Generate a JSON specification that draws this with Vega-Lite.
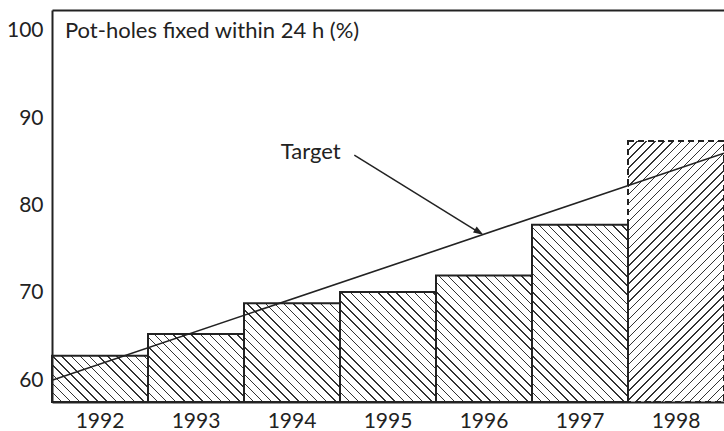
{
 "$schema": "https://vega.github.io/schema/vega-lite/v6.json",
 "width": 672, "height": 392,
 "autosize": {"type": "none"},
 "padding": {"left": 52, "top": 10, "right": 0, "bottom": 29},
 "background": "white",
 "config": {
  "view": {"stroke": null},
  "font": "Lato",
  "axis": {"domainColor": "#222", "domainWidth": 2, "ticks": false, "grid": false, "labelFont": "Lato", "labelFontSize": 21, "labelColor": "#222", "labelPadding": 8, "labelAngle": 0},
  "axisY": {"tickCount": 5, "labelPadding": 9}
 },
 "datasets": {
  "bars": [
   {"year": "1992", "value": 62.8},
   {"year": "1993", "value": 65.3},
   {"year": "1994", "value": 68.8},
   {"year": "1995", "value": 70.1},
   {"year": "1996", "value": 72.0},
   {"year": "1997", "value": 77.8},
   {"year": "1998", "value": 87.4}
  ],
  "target": [
   {"year": 1991.5, "target": 60},
   {"year": 1998.5, "target": 86.0}
  ]
 },
 "resolve": {"scale": {"x": "independent"}},
 "layer": [
  {
   "data": {"name": "bars"},
   "layer": [
    {
     "transform": [{"filter": "datum.year != '1998'"}],
     "mark": {"type": "bar", "strokeWidth": 0, "fill": {"gradient": "linear", "x1": 0, "y1": 1, "x2": 0.64, "y2": -0.19313, "stops": [
{"offset":0,"color":"#333"},{"offset":0.005,"color":"#333"},{"offset":0.005,"color":"#fff"},{"offset":0.03333,"color":"#fff"},
{"offset":0.03333,"color":"#333"},{"offset":0.03833,"color":"#333"},{"offset":0.03833,"color":"#fff"},{"offset":0.06667,"color":"#fff"},
{"offset":0.06667,"color":"#333"},{"offset":0.07167,"color":"#333"},{"offset":0.07167,"color":"#fff"},{"offset":0.1,"color":"#fff"},
{"offset":0.1,"color":"#333"},{"offset":0.105,"color":"#333"},{"offset":0.105,"color":"#fff"},{"offset":0.13333,"color":"#fff"},
{"offset":0.13333,"color":"#333"},{"offset":0.13833,"color":"#333"},{"offset":0.13833,"color":"#fff"},{"offset":0.16667,"color":"#fff"},
{"offset":0.16667,"color":"#333"},{"offset":0.17167,"color":"#333"},{"offset":0.17167,"color":"#fff"},{"offset":0.2,"color":"#fff"},
{"offset":0.2,"color":"#333"},{"offset":0.205,"color":"#333"},{"offset":0.205,"color":"#fff"},{"offset":0.23333,"color":"#fff"},
{"offset":0.23333,"color":"#333"},{"offset":0.23833,"color":"#333"},{"offset":0.23833,"color":"#fff"},{"offset":0.26667,"color":"#fff"},
{"offset":0.26667,"color":"#333"},{"offset":0.27167,"color":"#333"},{"offset":0.27167,"color":"#fff"},{"offset":0.3,"color":"#fff"},
{"offset":0.3,"color":"#333"},{"offset":0.305,"color":"#333"},{"offset":0.305,"color":"#fff"},{"offset":0.33333,"color":"#fff"},
{"offset":0.33333,"color":"#333"},{"offset":0.33833,"color":"#333"},{"offset":0.33833,"color":"#fff"},{"offset":0.36667,"color":"#fff"},
{"offset":0.36667,"color":"#333"},{"offset":0.37167,"color":"#333"},{"offset":0.37167,"color":"#fff"},{"offset":0.4,"color":"#fff"},
{"offset":0.4,"color":"#333"},{"offset":0.405,"color":"#333"},{"offset":0.405,"color":"#fff"},{"offset":0.43333,"color":"#fff"},
{"offset":0.43333,"color":"#333"},{"offset":0.43833,"color":"#333"},{"offset":0.43833,"color":"#fff"},{"offset":0.46667,"color":"#fff"},
{"offset":0.46667,"color":"#333"},{"offset":0.47167,"color":"#333"},{"offset":0.47167,"color":"#fff"},{"offset":0.5,"color":"#fff"},
{"offset":0.5,"color":"#333"},{"offset":0.505,"color":"#333"},{"offset":0.505,"color":"#fff"},{"offset":0.53333,"color":"#fff"},
{"offset":0.53333,"color":"#333"},{"offset":0.53833,"color":"#333"},{"offset":0.53833,"color":"#fff"},{"offset":0.56667,"color":"#fff"},
{"offset":0.56667,"color":"#333"},{"offset":0.57167,"color":"#333"},{"offset":0.57167,"color":"#fff"},{"offset":0.6,"color":"#fff"},
{"offset":0.6,"color":"#333"},{"offset":0.605,"color":"#333"},{"offset":0.605,"color":"#fff"},{"offset":0.63333,"color":"#fff"},
{"offset":0.63333,"color":"#333"},{"offset":0.63833,"color":"#333"},{"offset":0.63833,"color":"#fff"},{"offset":0.66667,"color":"#fff"},
{"offset":0.66667,"color":"#333"},{"offset":0.67167,"color":"#333"},{"offset":0.67167,"color":"#fff"},{"offset":0.7,"color":"#fff"},
{"offset":0.7,"color":"#333"},{"offset":0.705,"color":"#333"},{"offset":0.705,"color":"#fff"},{"offset":0.73333,"color":"#fff"},
{"offset":0.73333,"color":"#333"},{"offset":0.73833,"color":"#333"},{"offset":0.73833,"color":"#fff"},{"offset":0.76667,"color":"#fff"},
{"offset":0.76667,"color":"#333"},{"offset":0.77167,"color":"#333"},{"offset":0.77167,"color":"#fff"},{"offset":0.8,"color":"#fff"},
{"offset":0.8,"color":"#333"},{"offset":0.805,"color":"#333"},{"offset":0.805,"color":"#fff"},{"offset":0.83333,"color":"#fff"},
{"offset":0.83333,"color":"#333"},{"offset":0.83833,"color":"#333"},{"offset":0.83833,"color":"#fff"},{"offset":0.86667,"color":"#fff"},
{"offset":0.86667,"color":"#333"},{"offset":0.87167,"color":"#333"},{"offset":0.87167,"color":"#fff"},{"offset":0.9,"color":"#fff"},
{"offset":0.9,"color":"#333"},{"offset":0.905,"color":"#333"},{"offset":0.905,"color":"#fff"},{"offset":0.93333,"color":"#fff"},
{"offset":0.93333,"color":"#333"},{"offset":0.93833,"color":"#333"},{"offset":0.93833,"color":"#fff"},{"offset":0.96667,"color":"#fff"},
{"offset":0.96667,"color":"#333"},{"offset":0.97167,"color":"#333"},{"offset":0.97167,"color":"#fff"},{"offset":1,"color":"#fff"}
     ]}},
     "encoding": {
      "x": {"field": "year", "type": "nominal", "scale": {"paddingInner": 0, "paddingOuter": 0}, "axis": {"title": null, "zindex": 1}},
      "y": {"datum": 78, "type": "quantitative", "scale": {"domain": [57.5, 102.4], "nice": false, "zero": false}, "axis": {"title": null, "zindex": 1}},
      "y2": {"datum": 57.5}
     }
    },
    {
     "transform": [{"filter": "datum.year == '1998'"}],
     "mark": {"type": "bar", "strokeWidth": 0, "fill": {"gradient": "linear", "x1": 0, "y1": 0, "x2": 0.44308, "y2": 1.20481, "stops": [
{"offset":0,"color":"#333"},{"offset":0.004,"color":"#333"},{"offset":0.004,"color":"#fff"},{"offset":0.025,"color":"#fff"},
{"offset":0.025,"color":"#333"},{"offset":0.029,"color":"#333"},{"offset":0.029,"color":"#fff"},{"offset":0.05,"color":"#fff"},
{"offset":0.05,"color":"#333"},{"offset":0.054,"color":"#333"},{"offset":0.054,"color":"#fff"},{"offset":0.075,"color":"#fff"},
{"offset":0.075,"color":"#333"},{"offset":0.079,"color":"#333"},{"offset":0.079,"color":"#fff"},{"offset":0.1,"color":"#fff"},
{"offset":0.1,"color":"#333"},{"offset":0.104,"color":"#333"},{"offset":0.104,"color":"#fff"},{"offset":0.125,"color":"#fff"},
{"offset":0.125,"color":"#333"},{"offset":0.129,"color":"#333"},{"offset":0.129,"color":"#fff"},{"offset":0.15,"color":"#fff"},
{"offset":0.15,"color":"#333"},{"offset":0.154,"color":"#333"},{"offset":0.154,"color":"#fff"},{"offset":0.175,"color":"#fff"},
{"offset":0.175,"color":"#333"},{"offset":0.179,"color":"#333"},{"offset":0.179,"color":"#fff"},{"offset":0.2,"color":"#fff"},
{"offset":0.2,"color":"#333"},{"offset":0.204,"color":"#333"},{"offset":0.204,"color":"#fff"},{"offset":0.225,"color":"#fff"},
{"offset":0.225,"color":"#333"},{"offset":0.229,"color":"#333"},{"offset":0.229,"color":"#fff"},{"offset":0.25,"color":"#fff"},
{"offset":0.25,"color":"#333"},{"offset":0.254,"color":"#333"},{"offset":0.254,"color":"#fff"},{"offset":0.275,"color":"#fff"},
{"offset":0.275,"color":"#333"},{"offset":0.279,"color":"#333"},{"offset":0.279,"color":"#fff"},{"offset":0.3,"color":"#fff"},
{"offset":0.3,"color":"#333"},{"offset":0.304,"color":"#333"},{"offset":0.304,"color":"#fff"},{"offset":0.325,"color":"#fff"},
{"offset":0.325,"color":"#333"},{"offset":0.329,"color":"#333"},{"offset":0.329,"color":"#fff"},{"offset":0.35,"color":"#fff"},
{"offset":0.35,"color":"#333"},{"offset":0.354,"color":"#333"},{"offset":0.354,"color":"#fff"},{"offset":0.375,"color":"#fff"},
{"offset":0.375,"color":"#333"},{"offset":0.379,"color":"#333"},{"offset":0.379,"color":"#fff"},{"offset":0.4,"color":"#fff"},
{"offset":0.4,"color":"#333"},{"offset":0.404,"color":"#333"},{"offset":0.404,"color":"#fff"},{"offset":0.425,"color":"#fff"},
{"offset":0.425,"color":"#333"},{"offset":0.429,"color":"#333"},{"offset":0.429,"color":"#fff"},{"offset":0.45,"color":"#fff"},
{"offset":0.45,"color":"#333"},{"offset":0.454,"color":"#333"},{"offset":0.454,"color":"#fff"},{"offset":0.475,"color":"#fff"},
{"offset":0.475,"color":"#333"},{"offset":0.479,"color":"#333"},{"offset":0.479,"color":"#fff"},{"offset":0.5,"color":"#fff"},
{"offset":0.5,"color":"#333"},{"offset":0.504,"color":"#333"},{"offset":0.504,"color":"#fff"},{"offset":0.525,"color":"#fff"},
{"offset":0.525,"color":"#333"},{"offset":0.529,"color":"#333"},{"offset":0.529,"color":"#fff"},{"offset":0.55,"color":"#fff"},
{"offset":0.55,"color":"#333"},{"offset":0.554,"color":"#333"},{"offset":0.554,"color":"#fff"},{"offset":0.575,"color":"#fff"},
{"offset":0.575,"color":"#333"},{"offset":0.579,"color":"#333"},{"offset":0.579,"color":"#fff"},{"offset":0.6,"color":"#fff"},
{"offset":0.6,"color":"#333"},{"offset":0.604,"color":"#333"},{"offset":0.604,"color":"#fff"},{"offset":0.625,"color":"#fff"},
{"offset":0.625,"color":"#333"},{"offset":0.629,"color":"#333"},{"offset":0.629,"color":"#fff"},{"offset":0.65,"color":"#fff"},
{"offset":0.65,"color":"#333"},{"offset":0.654,"color":"#333"},{"offset":0.654,"color":"#fff"},{"offset":0.675,"color":"#fff"},
{"offset":0.675,"color":"#333"},{"offset":0.679,"color":"#333"},{"offset":0.679,"color":"#fff"},{"offset":0.7,"color":"#fff"},
{"offset":0.7,"color":"#333"},{"offset":0.704,"color":"#333"},{"offset":0.704,"color":"#fff"},{"offset":0.725,"color":"#fff"},
{"offset":0.725,"color":"#333"},{"offset":0.729,"color":"#333"},{"offset":0.729,"color":"#fff"},{"offset":0.75,"color":"#fff"},
{"offset":0.75,"color":"#333"},{"offset":0.754,"color":"#333"},{"offset":0.754,"color":"#fff"},{"offset":0.775,"color":"#fff"},
{"offset":0.775,"color":"#333"},{"offset":0.779,"color":"#333"},{"offset":0.779,"color":"#fff"},{"offset":0.8,"color":"#fff"},
{"offset":0.8,"color":"#333"},{"offset":0.804,"color":"#333"},{"offset":0.804,"color":"#fff"},{"offset":0.825,"color":"#fff"},
{"offset":0.825,"color":"#333"},{"offset":0.829,"color":"#333"},{"offset":0.829,"color":"#fff"},{"offset":0.85,"color":"#fff"},
{"offset":0.85,"color":"#333"},{"offset":0.854,"color":"#333"},{"offset":0.854,"color":"#fff"},{"offset":0.875,"color":"#fff"},
{"offset":0.875,"color":"#333"},{"offset":0.879,"color":"#333"},{"offset":0.879,"color":"#fff"},{"offset":0.9,"color":"#fff"},
{"offset":0.9,"color":"#333"},{"offset":0.904,"color":"#333"},{"offset":0.904,"color":"#fff"},{"offset":0.925,"color":"#fff"},
{"offset":0.925,"color":"#333"},{"offset":0.929,"color":"#333"},{"offset":0.929,"color":"#fff"},{"offset":0.95,"color":"#fff"},
{"offset":0.95,"color":"#333"},{"offset":0.954,"color":"#333"},{"offset":0.954,"color":"#fff"},{"offset":0.975,"color":"#fff"},
{"offset":0.975,"color":"#333"},{"offset":0.979,"color":"#333"},{"offset":0.979,"color":"#fff"},{"offset":1,"color":"#fff"}
     ]}},
     "encoding": {
      "x": {"field": "year", "type": "nominal", "scale": {"paddingInner": 0, "paddingOuter": 0}, "axis": {"title": null, "zindex": 1}},
      "y": {"field": "value", "type": "quantitative", "scale": {"domain": [57.5, 102.4], "nice": false, "zero": false}, "axis": {"title": null, "zindex": 1}},
      "y2": {"datum": 57.5}
     }
    },
    {
     "transform": [{"filter": "datum.year != '1998'"}],
     "mark": {"type": "bar", "fill": "white", "strokeWidth": 0},
     "encoding": {
      "x": {"field": "year", "type": "nominal", "scale": {"paddingInner": 0, "paddingOuter": 0}, "axis": {"title": null, "zindex": 1}},
      "y": {"field": "value", "type": "quantitative", "scale": {"domain": [57.5, 102.4], "nice": false, "zero": false}, "axis": {"title": null, "zindex": 1}},
      "y2": {"datum": 80}
     }
    },
    {
     "mark": {"type": "bar", "fill": null, "fillOpacity": 0, "stroke": "#222", "strokeWidth": 2},
     "encoding": {
      "x": {"field": "year", "type": "nominal", "scale": {"paddingInner": 0, "paddingOuter": 0}, "axis": {"title": null, "zindex": 1}},
      "y": {"field": "value", "type": "quantitative", "scale": {"domain": [57.5, 102.4], "nice": false, "zero": false}, "axis": {"title": null, "zindex": 1}},
      "y2": {"datum": 57.5},
      "strokeDash": {"condition": {"test": "datum.year == '1998'", "value": [6, 4]}, "value": [1, 0]}
     }
    }
   ]
  },
  {
   "layer": [
    {
     "data": {"name": "target"},
     "mark": {"type": "line", "stroke": "#222", "strokeWidth": 1.6},
     "encoding": {
      "x": {"field": "year", "type": "quantitative", "scale": {"domain": [1991.5, 1998.5], "nice": false, "zero": false}, "axis": {"title": null, "orient": "top", "labels": false, "zindex": 1}},
      "y": {"field": "target", "type": "quantitative", "scale": {"domain": [57.5, 102.4], "nice": false, "zero": false}, "axis": {"title": null, "zindex": 1}}
     }
    },
    {
     "data": {"values": [{}]},
     "mark": {"type": "rule", "stroke": "#222", "strokeWidth": 1.5},
     "encoding": {
      "x": {"datum": 1994.649, "type": "quantitative", "scale": {"domain": [1991.5, 1998.5], "nice": false, "zero": false}, "axis": {"title": null, "orient": "top", "labels": false, "zindex": 1}},
      "y": {"datum": 85.79, "type": "quantitative", "scale": {"domain": [57.5, 102.4], "nice": false, "zero": false}, "axis": {"title": null, "zindex": 1}},
      "x2": {"datum": 1995.96},
      "y2": {"datum": 76.85}
     }
    },
    {
     "data": {"values": [{}]},
     "mark": {"type": "point", "shape": "M0,0L-2,-0.7L-2,0.7Z", "filled": true, "fill": "#222", "opacity": 1, "strokeWidth": 0, "size": 100, "angle": 32},
     "encoding": {
      "x": {"datum": 1995.993, "type": "quantitative", "scale": {"domain": [1991.5, 1998.5], "nice": false, "zero": false}, "axis": {"title": null, "orient": "top", "labels": false, "zindex": 1}},
      "y": {"datum": 76.65, "type": "quantitative", "scale": {"domain": [57.5, 102.4], "nice": false, "zero": false}, "axis": {"title": null, "zindex": 1}}
     }
    },
    {
     "data": {"values": [{}]},
     "mark": {"type": "text", "text": "Target", "align": "right", "baseline": "alphabetic", "font": "Lato", "fontSize": 22, "fill": "#222"},
     "encoding": {
      "x": {"datum": 1994.507, "type": "quantitative", "scale": {"domain": [1991.5, 1998.5], "nice": false, "zero": false}, "axis": {"title": null, "orient": "top", "labels": false, "zindex": 1}},
      "y": {"datum": 85.3, "type": "quantitative", "scale": {"domain": [57.5, 102.4], "nice": false, "zero": false}, "axis": {"title": null, "zindex": 1}}
     }
    },
    {
     "data": {"values": [{}]},
     "mark": {"type": "text", "text": "Pot-holes fixed within 24 h (%)", "align": "left", "baseline": "alphabetic", "font": "Lato", "fontSize": 22, "fill": "#222"},
     "encoding": {
      "x": {"datum": 1991.635, "type": "quantitative", "scale": {"domain": [1991.5, 1998.5], "nice": false, "zero": false}, "axis": {"title": null, "orient": "top", "labels": false, "zindex": 1}},
      "y": {"datum": 99.23, "type": "quantitative", "scale": {"domain": [57.5, 102.4], "nice": false, "zero": false}, "axis": {"title": null, "zindex": 1}}
     }
    }
   ]
  }
 ]
}
